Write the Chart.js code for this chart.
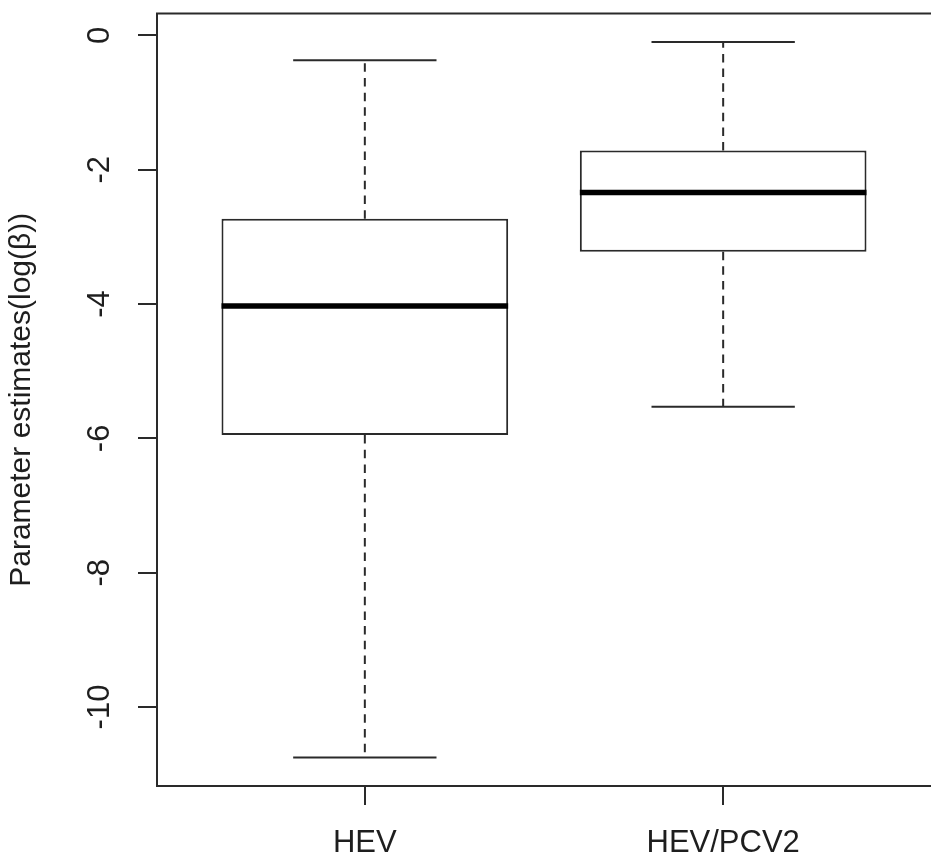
<!DOCTYPE html>
<html>
<head>
<meta charset="utf-8">
<script src="https://cdn.jsdelivr.net/npm/chart.js@4.4.1/dist/chart.umd.min.js"></script>
<style>
  html, body { margin: 0; padding: 0; background: #ffffff; }
  canvas { display: block; }
</style>
</head>
<body>
<canvas id="chart" width="931" height="861"></canvas>
<script>
// Box-plot summaries of the log(beta) estimates per infection group
const groups      = ['HEV', 'HEV/PCV2'];
const whiskerLow  = [-10.75, -5.53];
const quartile1   = [-5.95, -3.22];
const medians     = [-4.03, -2.34];
const quartile3   = [-2.73, -1.715];
const whiskerHigh = [-0.37, -0.10];

const yTickValues = [-10, -8, -6, -4, -2, 0];
const yTitle = 'Parameter estimates(log(\u03B2))';

// Axis limits padded by 4% of the data range on each side
const dataLo = Math.min(...whiskerLow);
const dataHi = Math.max(...whiskerHigh);
const yPad = 0.04 * (dataHi - dataLo);
const xPad = 0.04 * groups.length;

const LINE = '#2a2a2a';
const TEXT = '#1e1e1e';
const FONT = '"Liberation Sans", Arial, Helvetica, sans-serif';

Chart.defaults.font.family = FONT;

// Whiskers, staples, medians and the plot frame
const boxPlotMarks = {
  id: 'boxPlotMarks',
  afterDatasetsDraw(chart) {
    const { ctx, chartArea, scales: { x, y } } = chart;
    const meta = chart.getDatasetMeta(0);
    ctx.save();
    const seg = (x1, y1, x2, y2) => {
      ctx.beginPath(); ctx.moveTo(x1, y1); ctx.lineTo(x2, y2); ctx.stroke();
    };
    groups.forEach((g, i) => {
      const pos = i + 1;
      const cx = x.getPixelForValue(pos);
      const capL = x.getPixelForValue(pos - 0.2);
      const capR = x.getPixelForValue(pos + 0.2);
      const bar = meta.data[i];
      const half = bar.width / 2;

      ctx.strokeStyle = LINE;
      ctx.lineWidth = 2;
      ctx.setLineDash([8.5, 6.2]);
      seg(cx, y.getPixelForValue(quartile3[i]), cx, y.getPixelForValue(whiskerHigh[i]));
      seg(cx, y.getPixelForValue(quartile1[i]), cx, y.getPixelForValue(whiskerLow[i]));
      ctx.setLineDash([]);
      seg(capL, y.getPixelForValue(whiskerHigh[i]), capR, y.getPixelForValue(whiskerHigh[i]));
      seg(capL, y.getPixelForValue(whiskerLow[i]), capR, y.getPixelForValue(whiskerLow[i]));

      ctx.strokeStyle = '#000000';
      ctx.lineWidth = 5.5;
      const my = y.getPixelForValue(medians[i]);
      seg(bar.x - half, my, bar.x + half, my);
    });
    // Frame: the right side of the plot region lies just beyond the canvas edge
    ctx.strokeStyle = LINE;
    ctx.lineWidth = 2;
    ctx.strokeRect(chartArea.left, chartArea.top, chartArea.width + 4, chartArea.height);
    ctx.restore();
  }
};

function resetScalePadding(scale) {
  scale.paddingLeft = 0;
  scale.paddingRight = 0;
  scale.paddingTop = 0;
  scale.paddingBottom = 0;
}

new Chart(document.getElementById('chart'), {
  type: 'bar',
  data: {
    datasets: [{
      data: groups.map((g, i) => ({ x: i + 1, y: [quartile1[i], quartile3[i]] })),
      backgroundColor: '#ffffff',
      borderColor: LINE,
      borderWidth: 2,
      borderSkipped: false,
      barPercentage: 0.8,
      categoryPercentage: 1.0
    }]
  },
  options: {
    responsive: false,
    devicePixelRatio: 1,
    animation: false,
    layout: { padding: { top: 13.5, right: 0, bottom: 0, left: 0 } },
    plugins: { legend: { display: false }, tooltip: { enabled: false } },
    scales: {
      x: {
        type: 'linear',
        min: 0.5 - xPad,
        max: groups.length + 0.5 + xPad,
        offset: false,
        afterBuildTicks: (scale) => { scale.ticks = groups.map((g, i) => ({ value: i + 1 })); },
        afterFit: (scale) => { scale.height = 75; resetScalePadding(scale); },
        ticks: {
          autoSkip: false,
          maxRotation: 0,
          padding: 19.5,
          color: TEXT,
          font: { size: 31 },
          callback: (v) => groups[Math.round(v) - 1]
        },
        grid: { offset: false, drawOnChartArea: false, drawTicks: true, tickLength: 19, color: LINE, lineWidth: 2 },
        border: { display: false }
      },
      y: {
        type: 'linear',
        min: dataLo - yPad,
        max: dataHi + yPad,
        afterBuildTicks: (scale) => { scale.ticks = yTickValues.map(v => ({ value: v })); },
        afterFit: (scale) => { scale.width = 157; resetScalePadding(scale); },
        ticks: {
          minRotation: 90,
          maxRotation: 90,
          crossAlign: 'center',
          padding: 15.6,
          color: TEXT,
          font: { size: 31 },
          callback: (v) => String(v)
        },
        grid: { drawOnChartArea: false, drawTicks: true, tickLength: 19, color: LINE, lineWidth: 2 },
        border: { display: false },
        title: {
          display: true,
          text: yTitle,
          color: TEXT,
          font: { size: 30 },
          padding: { top: 4, bottom: 0 }
        }
      }
    }
  },
  plugins: [boxPlotMarks]
});
</script>
</body>
</html>
